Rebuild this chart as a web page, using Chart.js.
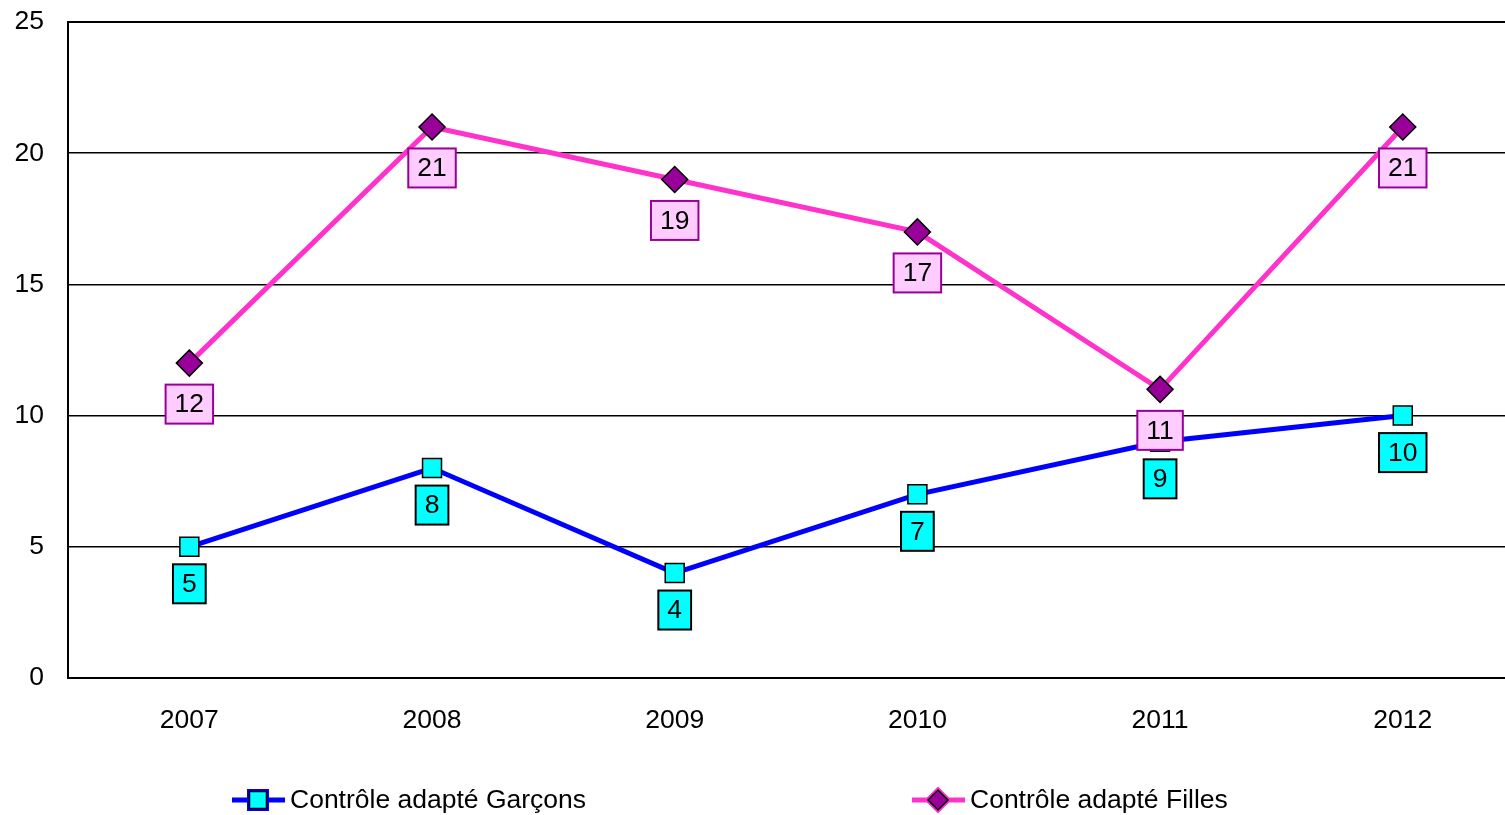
<!DOCTYPE html>
<html>
<head>
<meta charset="utf-8">
<script src="https://cdn.jsdelivr.net/npm/chart.js@4"></script>
<style>
  html, body { margin: 0; padding: 0; overflow: hidden; background: #fff; }
  #wrap { width: 1539px; height: 815px; }
</style>
</head>
<body>
<div id="wrap"><canvas id="chart" width="1539" height="815"></canvas></div>
<script>
const years = ['2007', '2008', '2009', '2010', '2011', '2012'];
const garcons = [5, 8, 4, 7, 9, 10];
const filles = [12, 21, 19, 17, 11, 21];
const seriesNames = ['Contrôle adapté Garçons', 'Contrôle adapté Filles'];

const FONT = 'Arial, "Liberation Sans", sans-serif';
const FSIZE = 26.5;

// value boxes under each point + legend at bottom
const labelsPlugin = {
  id: 'boxLabels',
  afterDatasetsDraw(chart) {
    const ctx = chart.ctx;
    const styles = [
      { fill: '#00FFFF', stroke: '#000000', offset: 37 },
      { fill: '#FFCCFF', stroke: '#990099', offset: 41 }
    ];
    ctx.save();
    ctx.font = FSIZE + 'px ' + FONT;
    ctx.textAlign = 'center';
    ctx.textBaseline = 'middle';
    chart.data.datasets.forEach((ds, i) => {
      const meta = chart.getDatasetMeta(i);
      const st = styles[i];
      meta.data.forEach((pt, j) => {
        const txt = String(ds.data[j]);
        const w = ctx.measureText(txt).width + 18;
        const h = 39;
        const cx = pt.x, cy = pt.y + st.offset;
        ctx.fillStyle = st.fill;
        ctx.fillRect(cx - w / 2, cy - h / 2, w, h);
        ctx.lineWidth = 2;
        ctx.strokeStyle = st.stroke;
        ctx.strokeRect(cx - w / 2, cy - h / 2, w, h);
        ctx.fillStyle = '#000';
        ctx.fillText(txt, cx, cy + 1);
      });
    });
    ctx.restore();
  },
  afterDraw(chart) {
    const ctx = chart.ctx;
    const area = chart.chartArea;
    ctx.save();
    // plot frame
    ctx.strokeStyle = '#000';
    ctx.lineWidth = 2;
    ctx.strokeRect(area.left, area.top, area.right - area.left, area.bottom - area.top);

    const items = [
      { x: 232, ds: chart.data.datasets[0] },
      { x: 912, ds: chart.data.datasets[1] }
    ];
    const y = 800;
    items.forEach((it) => {
      ctx.strokeStyle = it.ds.borderColor;
      ctx.lineWidth = 5;
      ctx.beginPath();
      ctx.moveTo(it.x, y);
      ctx.lineTo(it.x + 53, y);
      ctx.stroke();
      Chart.helpers.drawPoint(ctx, {
        pointStyle: it.ds.pointStyle,
        radius: it.ds.pointStyle === 'rect' ? 12 : 10,
        borderWidth: 1.5,
        rotation: 0
      }, it.x + 26, y);
      ctx.fillStyle = it.ds.pointBackgroundColor;
      ctx.strokeStyle = '#000';
      ctx.lineWidth = 1.5;
      ctx.fill();
      ctx.stroke();
      ctx.fillStyle = '#000';
      ctx.font = FSIZE + 'px ' + FONT;
      ctx.textAlign = 'left';
      ctx.textBaseline = 'middle';
      ctx.fillText(it.ds.label, it.x + 58, y + 1);
    });
    ctx.restore();
  }
};

new Chart(document.getElementById('chart'), {
  type: 'line',
  data: {
    labels: years,
    datasets: [
      {
        label: seriesNames[0],
        data: garcons,
        borderColor: '#0000FF',
        borderWidth: 5,
        pointStyle: 'rect',
        pointRadius: 13.4,
        pointBackgroundColor: '#00FFFF',
        pointBorderColor: '#000',
        pointBorderWidth: 1.5,
        tension: 0
      },
      {
        label: seriesNames[1],
        data: filles,
        borderColor: '#FF33CC',
        borderWidth: 5,
        pointStyle: 'rectRot',
        pointRadius: 13,
        pointBackgroundColor: '#990099',
        pointBorderColor: '#000',
        pointBorderWidth: 1.5,
        tension: 0
      }
    ]
  },
  options: {
    responsive: false,
    animation: false,
    layout: { padding: { top: 22, right: 6, bottom: 77, left: 0 } },
    plugins: {
      legend: { display: false },
      tooltip: { enabled: false }
    },
    scales: {
      x: {
        offset: true,
        grid: { display: false, drawTicks: false },
        border: { display: true, color: '#000', width: 2 },
        ticks: { color: '#000', font: { family: FONT, size: FSIZE }, padding: 27, maxRotation: 0 },
        afterFit(scale) { scale.height = 60; }
      },
      y: {
        min: 0,
        max: 25,
        grid: { color: '#000', lineWidth: 1.5, drawTicks: false },
        border: { display: true, color: '#000', width: 2 },
        ticks: { stepSize: 5, color: '#000', font: { family: FONT, size: FSIZE }, padding: 24 },
        afterFit(scale) {
          scale.width = 68;
          scale.paddingTop = 0;
          scale.paddingBottom = 0;
        }
      }
    }
  },
  plugins: [labelsPlugin]
});
</script>
</body>
</html>
